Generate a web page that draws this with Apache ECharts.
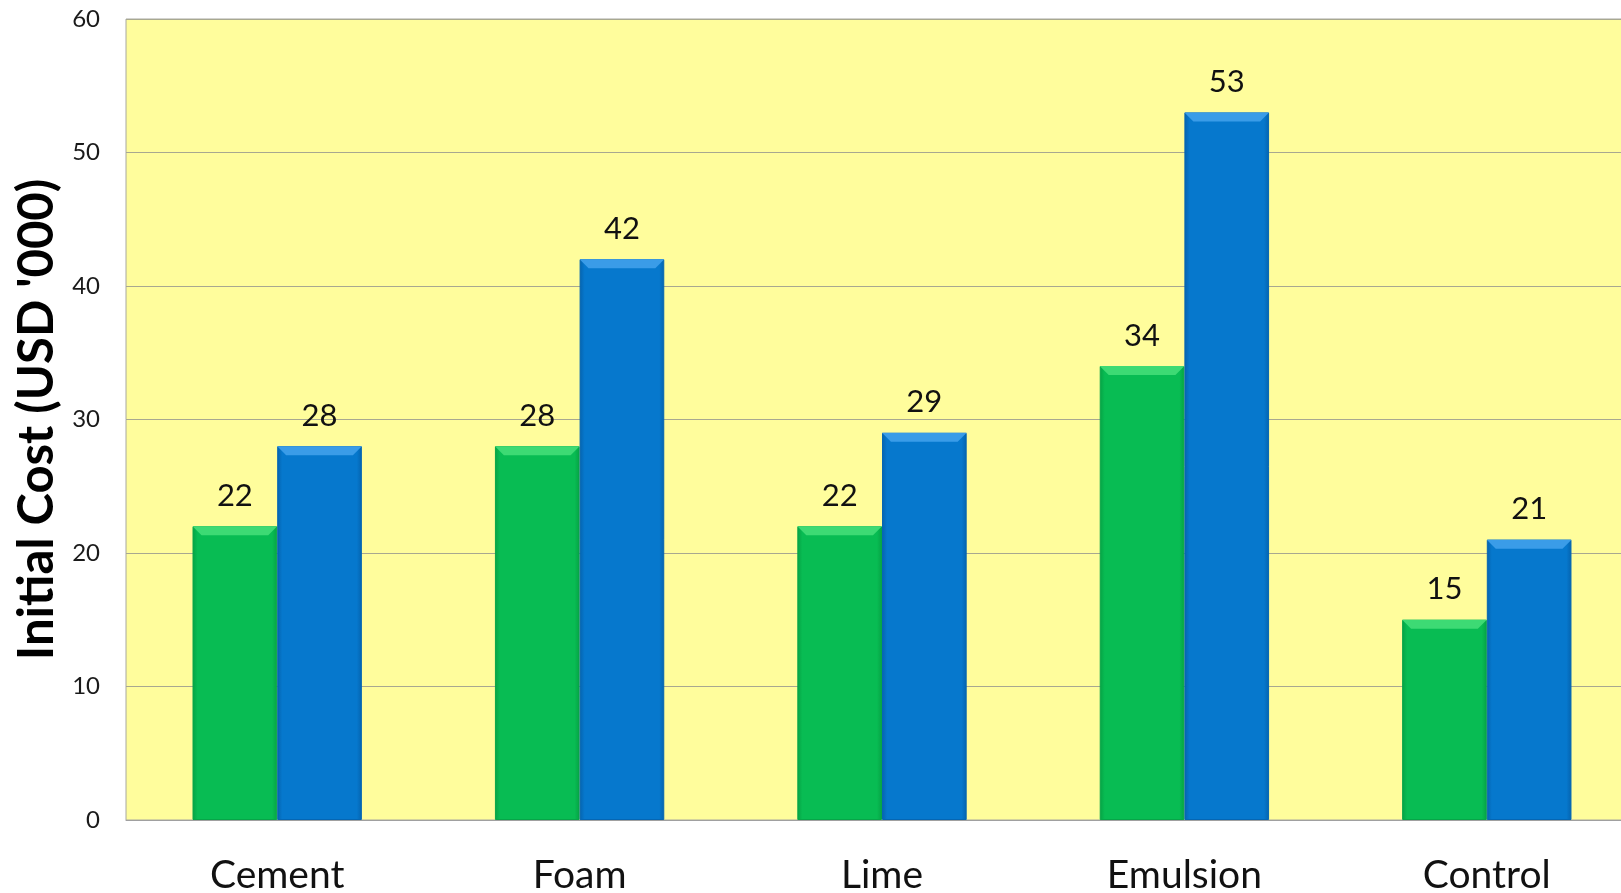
<!DOCTYPE html>
<html>
<head>
<meta charset="utf-8">
<script src="https://cdn.jsdelivr.net/npm/echarts@6/dist/echarts.min.js"></script>
<style>
  html, body { margin: 0; padding: 0; background: #ffffff; }
  #chart { width: 1621px; height: 893px; }
</style>
</head>
<body>
<div id="chart"></div>
<script>
// Initial cost per stabilisation method (USD '000)
const categories = ['Cement', 'Foam', 'Lime', 'Emulsion', 'Control'];
const greenValues = [22, 28, 22, 34, 15];
const blueValues = [28, 42, 29, 53, 21];
const yTicks = { min: 0, max: 60, interval: 10 };
const yTitle = "Initial Cost (USD '000)";

const FONT = 'Lato, "Open Sans", sans-serif';
const BAR_W = '28%';
const CAT_GAP = '44%';

function sideShade(edge, main) {
  return {
    type: 'linear', x: 0, y: 0, x2: 1, y2: 0,
    colorStops: [
      { offset: 0, color: edge },
      { offset: 0.06, color: main },
      { offset: 0.94, color: main },
      { offset: 1, color: edge }
    ]
  };
}

const bevel = 'path://M0,0L85,0L76,10L9,10Z';

const chart = echarts.init(document.getElementById('chart'));
chart.setOption({
  animation: false,
  grid: {
    left: 126, top: 19, width: 1512, height: 801,
    outerBoundsMode: 'none',
    containLabel: false,
    show: true, backgroundColor: '#FFFD9C',
    borderColor: '#A8A8A0', borderWidth: 1
  },
  xAxis: {
    type: 'category',
    data: categories,
    axisLine: { lineStyle: { color: '#A0A0A0', width: 1 } },
    axisTick: { show: false },
    axisLabel: { fontFamily: FONT, fontSize: 39, color: '#111', margin: 36 }
  },
  yAxis: {
    type: 'value',
    min: yTicks.min, max: yTicks.max, interval: yTicks.interval,
    name: yTitle,
    nameLocation: 'middle',
    nameGap: 63,
    nameTextStyle: { fontFamily: FONT, fontWeight: 'bold', fontSize: 49, color: '#000' },
    axisLine: { show: false },
    axisTick: { show: false },
    axisLabel: { fontFamily: FONT, fontSize: 24, color: '#1a1a1a', margin: 26 },
    splitLine: { lineStyle: { color: '#A8A890', width: 1 } }
  },
  series: [
    {
      type: 'bar', data: greenValues,
      barWidth: BAR_W, barGap: '0%', barCategoryGap: CAT_GAP,
      itemStyle: { color: sideShade('#06A244', '#08BC53'), borderColor: '#07A548', borderWidth: 1 },
      label: { show: true, position: 'top', distance: 15, fontFamily: FONT, fontSize: 31, color: '#111' },
      z: 2
    },
    {
      type: 'bar', data: blueValues,
      barWidth: BAR_W, barGap: '0%', barCategoryGap: CAT_GAP,
      itemStyle: { color: sideShade('#0563AE', '#0678CD'), borderColor: '#0566B3', borderWidth: 1 },
      label: { show: true, position: 'top', distance: 15, fontFamily: FONT, fontSize: 31, color: '#111' },
      z: 2
    },
    {
      type: 'pictorialBar', data: greenValues,
      barWidth: BAR_W, barGap: '0%', barCategoryGap: CAT_GAP,
      symbol: bevel, symbolSize: ['100%', 9], symbolPosition: 'end',
      itemStyle: { color: '#3DDA74' },
      silent: true, z: 3
    },
    {
      type: 'pictorialBar', data: blueValues,
      barWidth: BAR_W, barGap: '0%', barCategoryGap: CAT_GAP,
      symbol: bevel, symbolSize: ['100%', 9], symbolPosition: 'end',
      itemStyle: { color: '#3A9CE8' },
      silent: true, z: 3
    }
  ]
});
</script>
</body>
</html>
